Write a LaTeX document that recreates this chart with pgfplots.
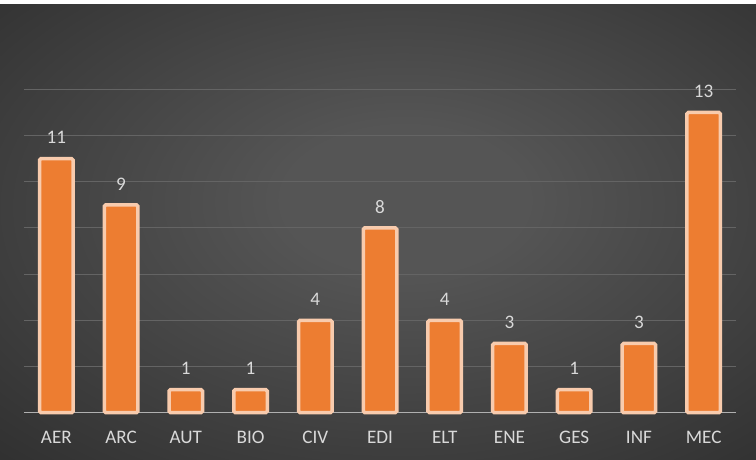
\documentclass[border=0pt]{standalone}
\usepackage{pgfplots}
\pgfplotsset{compat=1.18}
\usepackage{fontspec}
\setmainfont{Carlito}

\definecolor{barfill}{HTML}{ED7D31}
\definecolor{barline}{HTML}{F8CBAD}
\definecolor{labelgray}{HTML}{D9D9D9}
\definecolor{gridgray}{HTML}{646464}
\definecolor{basegray}{HTML}{B0B0B0}
\definecolor{bginner}{HTML}{555555}
\definecolor{bgouter}{HTML}{1F1F1F}

\pgfdeclareradialshading{panel}{\pgfpoint{2bp}{4bp}}{%
  color(0bp)=(bginner); color(8bp)=(bginner); color(52bp)=(bgouter); color(80bp)=(bgouter)}

\begin{document}
\begin{tikzpicture}
  % page and dark panel
  \fill[white] (0,0) rectangle (756bp,460bp);
  \shade[shading=panel] (0,0) rectangle (756bp,455bp);
  \begin{axis}[
    at={(24bp,47.3bp)}, anchor=south west,
    scale only axis,
    width=712bp, height=323.4bp,
    xmin=-0.5, xmax=10.5,
    ymin=0, ymax=14,
    axis line style={draw=none},
    xtick=data,
    xticklabels={AER,ARC,AUT,BIO,CIV,EDI,ELT,ENE,GES,INF,MEC},
    xticklabel style={font=\fontsize{19.2}{21}\selectfont, text=labelgray, yshift=-15bp},
    major tick length=0pt,
    ytick={2,4,...,14},
    yticklabels={},
    ymajorgrids,
    grid style={color=gridgray, line width=1bp},
    extra y ticks={0},
    extra y tick labels={},
    extra y tick style={grid style={color=basegray, line width=1bp}},
    ybar,
    bar width=33.5bp,
    nodes near coords,
    /pgf/number format/assume math mode=true,
    nodes near coords style={font=\fontsize{19.2}{21}\selectfont, text=labelgray,
      anchor=south, inner sep=0pt, yshift=13bp},
    clip=false,
  ]
    \addplot[fill=barfill, draw=barline, line width=3.5bp, rounded corners=1.5bp]
      coordinates {(0,11) (1,9) (2,1) (3,1) (4,4) (5,8) (6,4) (7,3) (8,1) (9,3) (10,13)};
  \end{axis}
\end{tikzpicture}
\end{document}
